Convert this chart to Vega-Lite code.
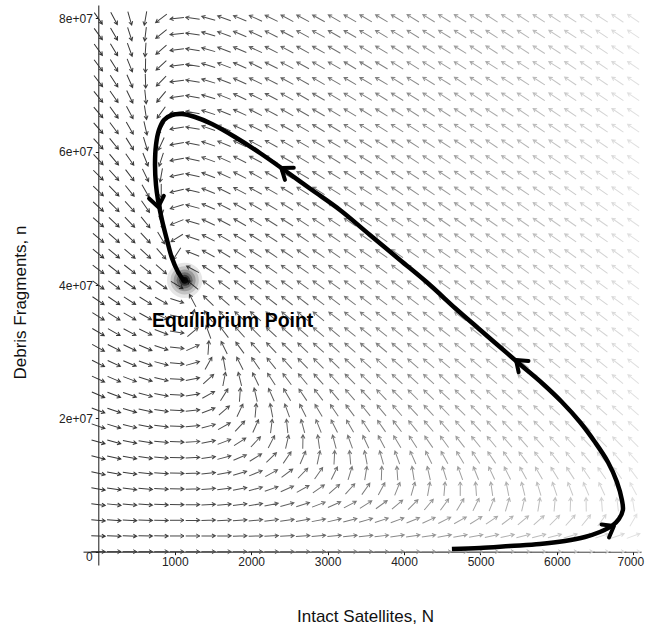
{
  "$schema": "https://vega.github.io/schema/vega-lite/v6.json",
  "width": 558,
  "height": 560,
  "autosize": "none",
  "padding": {"left": 83, "top": 5, "right": 5, "bottom": 66},
  "background": "white",
  "config": {"view": {"stroke": null}, "font": "Liberation Sans"},
  "datasets": {
    "field": [
{"N":0,"n":0,"a":0},{"N":205.9,"n":0,"a":0},{"N":411.8,"n":0,"a":0},{"N":617.6,"n":0,"a":0},{"N":823.5,"n":0,"a":0},{"N":1029.4,"n":0,"a":0},{"N":1235.3,"n":0,"a":0},{"N":1441.2,"n":0,"a":0},{"N":1647.1,"n":0,"a":0},{"N":1852.9,"n":0,"a":0},{"N":2058.8,"n":0,"a":0},{"N":2264.7,"n":0,"a":0},{"N":2470.6,"n":0,"a":0},{"N":2676.5,"n":0,"a":0},{"N":2882.4,"n":0,"a":0},{"N":3088.2,"n":0,"a":0},{"N":3294.1,"n":0,"a":0},{"N":3500,"n":0,"a":0},{"N":3705.9,"n":0,"a":0},{"N":3911.8,"n":0,"a":0},{"N":4117.6,"n":0,"a":0},{"N":4323.5,"n":0,"a":0},{"N":4529.4,"n":0,"a":0},{"N":4735.3,"n":0,"a":0},{"N":4941.2,"n":0,"a":0},{"N":5147.1,"n":0,"a":0},{"N":5352.9,"n":0,"a":0},{"N":5558.8,"n":0,"a":0},{"N":5764.7,"n":0,"a":0},{"N":5970.6,"n":0,"a":0},{"N":6176.5,"n":0,"a":0},{"N":6382.4,"n":0,"a":0},{"N":6588.2,"n":0,"a":0},{"N":6794.1,"n":0,"a":0},{"N":7000,"n":0,"a":0},
{"N":0,"n":2352941,"a":2},{"N":205.9,"n":2352941,"a":2},{"N":411.8,"n":2352941,"a":2},{"N":617.6,"n":2352941,"a":1},{"N":823.5,"n":2352941,"a":1},{"N":1029.4,"n":2352941,"a":0},{"N":1235.3,"n":2352941,"a":0},{"N":1441.2,"n":2352941,"a":-1},{"N":1647.1,"n":2352941,"a":-1},{"N":1852.9,"n":2352941,"a":-2},{"N":2058.8,"n":2352941,"a":-2},{"N":2264.7,"n":2352941,"a":-3},{"N":2470.6,"n":2352941,"a":-3},{"N":2676.5,"n":2352941,"a":-4},{"N":2882.4,"n":2352941,"a":-5},{"N":3088.2,"n":2352941,"a":-5},{"N":3294.1,"n":2352941,"a":-6},{"N":3500,"n":2352941,"a":-6},{"N":3705.9,"n":2352941,"a":-7},{"N":3911.8,"n":2352941,"a":-8},{"N":4117.6,"n":2352941,"a":-8},{"N":4323.5,"n":2352941,"a":-9},{"N":4529.4,"n":2352941,"a":-10},{"N":4735.3,"n":2352941,"a":-11},{"N":4941.2,"n":2352941,"a":-11},{"N":5147.1,"n":2352941,"a":-12},{"N":5352.9,"n":2352941,"a":-13},{"N":5558.8,"n":2352941,"a":-14},{"N":5764.7,"n":2352941,"a":-14},{"N":5970.6,"n":2352941,"a":-15},{"N":6176.5,"n":2352941,"a":-16},{"N":6382.4,"n":2352941,"a":-17},{"N":6588.2,"n":2352941,"a":-18},{"N":6794.1,"n":2352941,"a":-19},{"N":7000,"n":2352941,"a":-20},
{"N":0,"n":4705882,"a":5},{"N":205.9,"n":4705882,"a":4},{"N":411.8,"n":4705882,"a":3},{"N":617.6,"n":4705882,"a":2},{"N":823.5,"n":4705882,"a":1},{"N":1029.4,"n":4705882,"a":0},{"N":1235.3,"n":4705882,"a":-1},{"N":1441.2,"n":4705882,"a":-2},{"N":1647.1,"n":4705882,"a":-3},{"N":1852.9,"n":4705882,"a":-4},{"N":2058.8,"n":4705882,"a":-5},{"N":2264.7,"n":4705882,"a":-7},{"N":2470.6,"n":4705882,"a":-8},{"N":2676.5,"n":4705882,"a":-10},{"N":2882.4,"n":4705882,"a":-11},{"N":3088.2,"n":4705882,"a":-13},{"N":3294.1,"n":4705882,"a":-14},{"N":3500,"n":4705882,"a":-16},{"N":3705.9,"n":4705882,"a":-18},{"N":3911.8,"n":4705882,"a":-20},{"N":4117.6,"n":4705882,"a":-22},{"N":4323.5,"n":4705882,"a":-25},{"N":4529.4,"n":4705882,"a":-27},{"N":4735.3,"n":4705882,"a":-29},{"N":4941.2,"n":4705882,"a":-32},{"N":5147.1,"n":4705882,"a":-34},{"N":5352.9,"n":4705882,"a":-37},{"N":5558.8,"n":4705882,"a":-40},{"N":5764.7,"n":4705882,"a":-42},{"N":5970.6,"n":4705882,"a":-45},{"N":6176.5,"n":4705882,"a":-48},{"N":6382.4,"n":4705882,"a":-51},{"N":6588.2,"n":4705882,"a":-54},{"N":6794.1,"n":4705882,"a":-57},{"N":7000,"n":4705882,"a":-60},
{"N":0,"n":7058824,"a":7},{"N":205.9,"n":7058824,"a":6},{"N":411.8,"n":7058824,"a":5},{"N":617.6,"n":7058824,"a":4},{"N":823.5,"n":7058824,"a":2},{"N":1029.4,"n":7058824,"a":1},{"N":1235.3,"n":7058824,"a":-1},{"N":1441.2,"n":7058824,"a":-3},{"N":1647.1,"n":7058824,"a":-5},{"N":1852.9,"n":7058824,"a":-7},{"N":2058.8,"n":7058824,"a":-9},{"N":2264.7,"n":7058824,"a":-12},{"N":2470.6,"n":7058824,"a":-15},{"N":2676.5,"n":7058824,"a":-18},{"N":2882.4,"n":7058824,"a":-21},{"N":3088.2,"n":7058824,"a":-24},{"N":3294.1,"n":7058824,"a":-28},{"N":3500,"n":7058824,"a":-32},{"N":3705.9,"n":7058824,"a":-36},{"N":3911.8,"n":7058824,"a":-40},{"N":4117.6,"n":7058824,"a":-45},{"N":4323.5,"n":7058824,"a":-50},{"N":4529.4,"n":7058824,"a":-54},{"N":4735.3,"n":7058824,"a":-59},{"N":4941.2,"n":7058824,"a":-64},{"N":5147.1,"n":7058824,"a":-68},{"N":5352.9,"n":7058824,"a":-73},{"N":5558.8,"n":7058824,"a":-77},{"N":5764.7,"n":7058824,"a":-81},{"N":5970.6,"n":7058824,"a":-85},{"N":6176.5,"n":7058824,"a":-88},{"N":6382.4,"n":7058824,"a":-91},{"N":6588.2,"n":7058824,"a":-94},{"N":6794.1,"n":7058824,"a":-97},{"N":7000,"n":7058824,"a":-99},
{"N":0,"n":9411765,"a":10},{"N":205.9,"n":9411765,"a":8},{"N":411.8,"n":9411765,"a":7},{"N":617.6,"n":9411765,"a":5},{"N":823.5,"n":9411765,"a":3},{"N":1029.4,"n":9411765,"a":1},{"N":1235.3,"n":9411765,"a":-2},{"N":1441.2,"n":9411765,"a":-4},{"N":1647.1,"n":9411765,"a":-7},{"N":1852.9,"n":9411765,"a":-11},{"N":2058.8,"n":9411765,"a":-15},{"N":2264.7,"n":9411765,"a":-19},{"N":2470.6,"n":9411765,"a":-24},{"N":2676.5,"n":9411765,"a":-29},{"N":2882.4,"n":9411765,"a":-35},{"N":3088.2,"n":9411765,"a":-41},{"N":3294.1,"n":9411765,"a":-48},{"N":3500,"n":9411765,"a":-55},{"N":3705.9,"n":9411765,"a":-62},{"N":3911.8,"n":9411765,"a":-68},{"N":4117.6,"n":9411765,"a":-74},{"N":4323.5,"n":9411765,"a":-80},{"N":4529.4,"n":9411765,"a":-85},{"N":4735.3,"n":9411765,"a":-90},{"N":4941.2,"n":9411765,"a":-94},{"N":5147.1,"n":9411765,"a":-98},{"N":5352.9,"n":9411765,"a":-101},{"N":5558.8,"n":9411765,"a":-104},{"N":5764.7,"n":9411765,"a":-107},{"N":5970.6,"n":9411765,"a":-109},{"N":6176.5,"n":9411765,"a":-111},{"N":6382.4,"n":9411765,"a":-113},{"N":6588.2,"n":9411765,"a":-115},{"N":6794.1,"n":9411765,"a":-116},{"N":7000,"n":9411765,"a":-118},
{"N":0,"n":11764706,"a":12},{"N":205.9,"n":11764706,"a":10},{"N":411.8,"n":11764706,"a":8},{"N":617.6,"n":11764706,"a":6},{"N":823.5,"n":11764706,"a":4},{"N":1029.4,"n":11764706,"a":1},{"N":1235.3,"n":11764706,"a":-2},{"N":1441.2,"n":11764706,"a":-6},{"N":1647.1,"n":11764706,"a":-11},{"N":1852.9,"n":11764706,"a":-16},{"N":2058.8,"n":11764706,"a":-22},{"N":2264.7,"n":11764706,"a":-29},{"N":2470.6,"n":11764706,"a":-37},{"N":2676.5,"n":11764706,"a":-46},{"N":2882.4,"n":11764706,"a":-55},{"N":3088.2,"n":11764706,"a":-64},{"N":3294.1,"n":11764706,"a":-73},{"N":3500,"n":11764706,"a":-81},{"N":3705.9,"n":11764706,"a":-88},{"N":3911.8,"n":11764706,"a":-94},{"N":4117.6,"n":11764706,"a":-99},{"N":4323.5,"n":11764706,"a":-103},{"N":4529.4,"n":11764706,"a":-107},{"N":4735.3,"n":11764706,"a":-110},{"N":4941.2,"n":11764706,"a":-112},{"N":5147.1,"n":11764706,"a":-115},{"N":5352.9,"n":11764706,"a":-117},{"N":5558.8,"n":11764706,"a":-119},{"N":5764.7,"n":11764706,"a":-120},{"N":5970.6,"n":11764706,"a":-122},{"N":6176.5,"n":11764706,"a":-123},{"N":6382.4,"n":11764706,"a":-124},{"N":6588.2,"n":11764706,"a":-125},{"N":6794.1,"n":11764706,"a":-126},{"N":7000,"n":11764706,"a":-127},
{"N":0,"n":14117647,"a":14},{"N":205.9,"n":14117647,"a":12},{"N":411.8,"n":14117647,"a":10},{"N":617.6,"n":14117647,"a":8},{"N":823.5,"n":14117647,"a":5},{"N":1029.4,"n":14117647,"a":1},{"N":1235.3,"n":14117647,"a":-3},{"N":1441.2,"n":14117647,"a":-8},{"N":1647.1,"n":14117647,"a":-15},{"N":1852.9,"n":14117647,"a":-23},{"N":2058.8,"n":14117647,"a":-32},{"N":2264.7,"n":14117647,"a":-44},{"N":2470.6,"n":14117647,"a":-56},{"N":2676.5,"n":14117647,"a":-67},{"N":2882.4,"n":14117647,"a":-78},{"N":3088.2,"n":14117647,"a":-87},{"N":3294.1,"n":14117647,"a":-95},{"N":3500,"n":14117647,"a":-101},{"N":3705.9,"n":14117647,"a":-106},{"N":3911.8,"n":14117647,"a":-110},{"N":4117.6,"n":14117647,"a":-114},{"N":4323.5,"n":14117647,"a":-116},{"N":4529.4,"n":14117647,"a":-119},{"N":4735.3,"n":14117647,"a":-121},{"N":4941.2,"n":14117647,"a":-123},{"N":5147.1,"n":14117647,"a":-124},{"N":5352.9,"n":14117647,"a":-125},{"N":5558.8,"n":14117647,"a":-127},{"N":5764.7,"n":14117647,"a":-128},{"N":5970.6,"n":14117647,"a":-128},{"N":6176.5,"n":14117647,"a":-129},{"N":6382.4,"n":14117647,"a":-130},{"N":6588.2,"n":14117647,"a":-131},{"N":6794.1,"n":14117647,"a":-131},{"N":7000,"n":14117647,"a":-132},
{"N":0,"n":16470588,"a":16},{"N":205.9,"n":16470588,"a":15},{"N":411.8,"n":16470588,"a":12},{"N":617.6,"n":16470588,"a":10},{"N":823.5,"n":16470588,"a":6},{"N":1029.4,"n":16470588,"a":2},{"N":1235.3,"n":16470588,"a":-4},{"N":1441.2,"n":16470588,"a":-11},{"N":1647.1,"n":16470588,"a":-21},{"N":1852.9,"n":16470588,"a":-33},{"N":2058.8,"n":16470588,"a":-47},{"N":2264.7,"n":16470588,"a":-63},{"N":2470.6,"n":16470588,"a":-77},{"N":2676.5,"n":16470588,"a":-89},{"N":2882.4,"n":16470588,"a":-98},{"N":3088.2,"n":16470588,"a":-105},{"N":3294.1,"n":16470588,"a":-110},{"N":3500,"n":16470588,"a":-115},{"N":3705.9,"n":16470588,"a":-118},{"N":3911.8,"n":16470588,"a":-121},{"N":4117.6,"n":16470588,"a":-123},{"N":4323.5,"n":16470588,"a":-125},{"N":4529.4,"n":16470588,"a":-126},{"N":4735.3,"n":16470588,"a":-128},{"N":4941.2,"n":16470588,"a":-129},{"N":5147.1,"n":16470588,"a":-130},{"N":5352.9,"n":16470588,"a":-131},{"N":5558.8,"n":16470588,"a":-131},{"N":5764.7,"n":16470588,"a":-132},{"N":5970.6,"n":16470588,"a":-133},{"N":6176.5,"n":16470588,"a":-133},{"N":6382.4,"n":16470588,"a":-134},{"N":6588.2,"n":16470588,"a":-134},{"N":6794.1,"n":16470588,"a":-135},{"N":7000,"n":16470588,"a":-135},
{"N":0,"n":18823529,"a":19},{"N":205.9,"n":18823529,"a":17},{"N":411.8,"n":18823529,"a":14},{"N":617.6,"n":18823529,"a":11},{"N":823.5,"n":18823529,"a":7},{"N":1029.4,"n":18823529,"a":2},{"N":1235.3,"n":18823529,"a":-5},{"N":1441.2,"n":18823529,"a":-15},{"N":1647.1,"n":18823529,"a":-29},{"N":1852.9,"n":18823529,"a":-47},{"N":2058.8,"n":18823529,"a":-66},{"N":2264.7,"n":18823529,"a":-83},{"N":2470.6,"n":18823529,"a":-96},{"N":2676.5,"n":18823529,"a":-105},{"N":2882.4,"n":18823529,"a":-112},{"N":3088.2,"n":18823529,"a":-117},{"N":3294.1,"n":18823529,"a":-120},{"N":3500,"n":18823529,"a":-123},{"N":3705.9,"n":18823529,"a":-125},{"N":3911.8,"n":18823529,"a":-127},{"N":4117.6,"n":18823529,"a":-129},{"N":4323.5,"n":18823529,"a":-130},{"N":4529.4,"n":18823529,"a":-131},{"N":4735.3,"n":18823529,"a":-132},{"N":4941.2,"n":18823529,"a":-133},{"N":5147.1,"n":18823529,"a":-133},{"N":5352.9,"n":18823529,"a":-134},{"N":5558.8,"n":18823529,"a":-135},{"N":5764.7,"n":18823529,"a":-135},{"N":5970.6,"n":18823529,"a":-136},{"N":6176.5,"n":18823529,"a":-136},{"N":6382.4,"n":18823529,"a":-136},{"N":6588.2,"n":18823529,"a":-137},{"N":6794.1,"n":18823529,"a":-137},{"N":7000,"n":18823529,"a":-137},
{"N":0,"n":21176471,"a":21},{"N":205.9,"n":21176471,"a":19},{"N":411.8,"n":21176471,"a":16},{"N":617.6,"n":21176471,"a":13},{"N":823.5,"n":21176471,"a":9},{"N":1029.4,"n":21176471,"a":3},{"N":1235.3,"n":21176471,"a":-6},{"N":1441.2,"n":21176471,"a":-21},{"N":1647.1,"n":21176471,"a":-41},{"N":1852.9,"n":21176471,"a":-65},{"N":2058.8,"n":21176471,"a":-85},{"N":2264.7,"n":21176471,"a":-101},{"N":2470.6,"n":21176471,"a":-110},{"N":2676.5,"n":21176471,"a":-117},{"N":2882.4,"n":21176471,"a":-121},{"N":3088.2,"n":21176471,"a":-124},{"N":3294.1,"n":21176471,"a":-127},{"N":3500,"n":21176471,"a":-129},{"N":3705.9,"n":21176471,"a":-130},{"N":3911.8,"n":21176471,"a":-131},{"N":4117.6,"n":21176471,"a":-133},{"N":4323.5,"n":21176471,"a":-133},{"N":4529.4,"n":21176471,"a":-134},{"N":4735.3,"n":21176471,"a":-135},{"N":4941.2,"n":21176471,"a":-135},{"N":5147.1,"n":21176471,"a":-136},{"N":5352.9,"n":21176471,"a":-136},{"N":5558.8,"n":21176471,"a":-137},{"N":5764.7,"n":21176471,"a":-137},{"N":5970.6,"n":21176471,"a":-138},{"N":6176.5,"n":21176471,"a":-138},{"N":6382.4,"n":21176471,"a":-138},{"N":6588.2,"n":21176471,"a":-138},{"N":6794.1,"n":21176471,"a":-139},{"N":7000,"n":21176471,"a":-139},
{"N":0,"n":23529412,"a":23},{"N":205.9,"n":23529412,"a":21},{"N":411.8,"n":23529412,"a":19},{"N":617.6,"n":23529412,"a":15},{"N":823.5,"n":23529412,"a":11},{"N":1029.4,"n":23529412,"a":3},{"N":1235.3,"n":23529412,"a":-9},{"N":1441.2,"n":23529412,"a":-29},{"N":1647.1,"n":23529412,"a":-58},{"N":1852.9,"n":23529412,"a":-86},{"N":2058.8,"n":23529412,"a":-103},{"N":2264.7,"n":23529412,"a":-114},{"N":2470.6,"n":23529412,"a":-120},{"N":2676.5,"n":23529412,"a":-124},{"N":2882.4,"n":23529412,"a":-127},{"N":3088.2,"n":23529412,"a":-130},{"N":3294.1,"n":23529412,"a":-131},{"N":3500,"n":23529412,"a":-133},{"N":3705.9,"n":23529412,"a":-134},{"N":3911.8,"n":23529412,"a":-135},{"N":4117.6,"n":23529412,"a":-135},{"N":4323.5,"n":23529412,"a":-136},{"N":4529.4,"n":23529412,"a":-137},{"N":4735.3,"n":23529412,"a":-137},{"N":4941.2,"n":23529412,"a":-138},{"N":5147.1,"n":23529412,"a":-138},{"N":5352.9,"n":23529412,"a":-138},{"N":5558.8,"n":23529412,"a":-139},{"N":5764.7,"n":23529412,"a":-139},{"N":5970.6,"n":23529412,"a":-139},{"N":6176.5,"n":23529412,"a":-139},{"N":6382.4,"n":23529412,"a":-139},{"N":6588.2,"n":23529412,"a":-140},{"N":6794.1,"n":23529412,"a":-140},{"N":7000,"n":23529412,"a":-140},
{"N":0,"n":25882353,"a":25},{"N":205.9,"n":25882353,"a":23},{"N":411.8,"n":25882353,"a":21},{"N":617.6,"n":25882353,"a":18},{"N":823.5,"n":25882353,"a":13},{"N":1029.4,"n":25882353,"a":4},{"N":1235.3,"n":25882353,"a":-11},{"N":1441.2,"n":25882353,"a":-42},{"N":1647.1,"n":25882353,"a":-79},{"N":1852.9,"n":25882353,"a":-104},{"N":2058.8,"n":25882353,"a":-116},{"N":2264.7,"n":25882353,"a":-123},{"N":2470.6,"n":25882353,"a":-127},{"N":2676.5,"n":25882353,"a":-130},{"N":2882.4,"n":25882353,"a":-132},{"N":3088.2,"n":25882353,"a":-133},{"N":3294.1,"n":25882353,"a":-135},{"N":3500,"n":25882353,"a":-136},{"N":3705.9,"n":25882353,"a":-136},{"N":3911.8,"n":25882353,"a":-137},{"N":4117.6,"n":25882353,"a":-138},{"N":4323.5,"n":25882353,"a":-138},{"N":4529.4,"n":25882353,"a":-138},{"N":4735.3,"n":25882353,"a":-139},{"N":4941.2,"n":25882353,"a":-139},{"N":5147.1,"n":25882353,"a":-139},{"N":5352.9,"n":25882353,"a":-140},{"N":5558.8,"n":25882353,"a":-140},{"N":5764.7,"n":25882353,"a":-140},{"N":5970.6,"n":25882353,"a":-140},{"N":6176.5,"n":25882353,"a":-140},{"N":6382.4,"n":25882353,"a":-141},{"N":6588.2,"n":25882353,"a":-141},{"N":6794.1,"n":25882353,"a":-141},{"N":7000,"n":25882353,"a":-141},
{"N":0,"n":28235294,"a":27},{"N":205.9,"n":28235294,"a":25},{"N":411.8,"n":28235294,"a":23},{"N":617.6,"n":28235294,"a":20},{"N":823.5,"n":28235294,"a":15},{"N":1029.4,"n":28235294,"a":5},{"N":1235.3,"n":28235294,"a":-16},{"N":1441.2,"n":28235294,"a":-61},{"N":1647.1,"n":28235294,"a":-100},{"N":1852.9,"n":28235294,"a":-117},{"N":2058.8,"n":28235294,"a":-125},{"N":2264.7,"n":28235294,"a":-129},{"N":2470.6,"n":28235294,"a":-132},{"N":2676.5,"n":28235294,"a":-134},{"N":2882.4,"n":28235294,"a":-135},{"N":3088.2,"n":28235294,"a":-136},{"N":3294.1,"n":28235294,"a":-137},{"N":3500,"n":28235294,"a":-138},{"N":3705.9,"n":28235294,"a":-138},{"N":3911.8,"n":28235294,"a":-139},{"N":4117.6,"n":28235294,"a":-139},{"N":4323.5,"n":28235294,"a":-140},{"N":4529.4,"n":28235294,"a":-140},{"N":4735.3,"n":28235294,"a":-140},{"N":4941.2,"n":28235294,"a":-140},{"N":5147.1,"n":28235294,"a":-141},{"N":5352.9,"n":28235294,"a":-141},{"N":5558.8,"n":28235294,"a":-141},{"N":5764.7,"n":28235294,"a":-141},{"N":5970.6,"n":28235294,"a":-141},{"N":6176.5,"n":28235294,"a":-141},{"N":6382.4,"n":28235294,"a":-141},{"N":6588.2,"n":28235294,"a":-141},{"N":6794.1,"n":28235294,"a":-142},{"N":7000,"n":28235294,"a":-142},
{"N":0,"n":30588235,"a":29},{"N":205.9,"n":30588235,"a":27},{"N":411.8,"n":30588235,"a":26},{"N":617.6,"n":30588235,"a":23},{"N":823.5,"n":30588235,"a":18},{"N":1029.4,"n":30588235,"a":7},{"N":1235.3,"n":30588235,"a":-24},{"N":1441.2,"n":30588235,"a":-86},{"N":1647.1,"n":30588235,"a":-116},{"N":1852.9,"n":30588235,"a":-126},{"N":2058.8,"n":30588235,"a":-131},{"N":2264.7,"n":30588235,"a":-134},{"N":2470.6,"n":30588235,"a":-136},{"N":2676.5,"n":30588235,"a":-137},{"N":2882.4,"n":30588235,"a":-138},{"N":3088.2,"n":30588235,"a":-138},{"N":3294.1,"n":30588235,"a":-139},{"N":3500,"n":30588235,"a":-140},{"N":3705.9,"n":30588235,"a":-140},{"N":3911.8,"n":30588235,"a":-140},{"N":4117.6,"n":30588235,"a":-141},{"N":4323.5,"n":30588235,"a":-141},{"N":4529.4,"n":30588235,"a":-141},{"N":4735.3,"n":30588235,"a":-141},{"N":4941.2,"n":30588235,"a":-141},{"N":5147.1,"n":30588235,"a":-141},{"N":5352.9,"n":30588235,"a":-142},{"N":5558.8,"n":30588235,"a":-142},{"N":5764.7,"n":30588235,"a":-142},{"N":5970.6,"n":30588235,"a":-142},{"N":6176.5,"n":30588235,"a":-142},{"N":6382.4,"n":30588235,"a":-142},{"N":6588.2,"n":30588235,"a":-142},{"N":6794.1,"n":30588235,"a":-142},{"N":7000,"n":30588235,"a":-142},
{"N":0,"n":32941176,"a":31},{"N":205.9,"n":32941176,"a":30},{"N":411.8,"n":32941176,"a":28},{"N":617.6,"n":32941176,"a":26},{"N":823.5,"n":32941176,"a":21},{"N":1029.4,"n":32941176,"a":9},{"N":1235.3,"n":32941176,"a":-40},{"N":1441.2,"n":32941176,"a":-110},{"N":1647.1,"n":32941176,"a":-127},{"N":1852.9,"n":32941176,"a":-132},{"N":2058.8,"n":32941176,"a":-135},{"N":2264.7,"n":32941176,"a":-137},{"N":2470.6,"n":32941176,"a":-138},{"N":2676.5,"n":32941176,"a":-139},{"N":2882.4,"n":32941176,"a":-140},{"N":3088.2,"n":32941176,"a":-140},{"N":3294.1,"n":32941176,"a":-141},{"N":3500,"n":32941176,"a":-141},{"N":3705.9,"n":32941176,"a":-141},{"N":3911.8,"n":32941176,"a":-141},{"N":4117.6,"n":32941176,"a":-142},{"N":4323.5,"n":32941176,"a":-142},{"N":4529.4,"n":32941176,"a":-142},{"N":4735.3,"n":32941176,"a":-142},{"N":4941.2,"n":32941176,"a":-142},{"N":5147.1,"n":32941176,"a":-142},{"N":5352.9,"n":32941176,"a":-142},{"N":5558.8,"n":32941176,"a":-142},{"N":5764.7,"n":32941176,"a":-142},{"N":5970.6,"n":32941176,"a":-143},{"N":6176.5,"n":32941176,"a":-143},{"N":6382.4,"n":32941176,"a":-143},{"N":6588.2,"n":32941176,"a":-143},{"N":6794.1,"n":32941176,"a":-143},{"N":7000,"n":32941176,"a":-143},
{"N":0,"n":35294118,"a":32},{"N":205.9,"n":35294118,"a":32},{"N":411.8,"n":35294118,"a":30},{"N":617.6,"n":35294118,"a":29},{"N":823.5,"n":35294118,"a":25},{"N":1029.4,"n":35294118,"a":12},{"N":1235.3,"n":35294118,"a":-75},{"N":1441.2,"n":35294118,"a":-126},{"N":1647.1,"n":35294118,"a":-134},{"N":1852.9,"n":35294118,"a":-137},{"N":2058.8,"n":35294118,"a":-139},{"N":2264.7,"n":35294118,"a":-140},{"N":2470.6,"n":35294118,"a":-140},{"N":2676.5,"n":35294118,"a":-141},{"N":2882.4,"n":35294118,"a":-141},{"N":3088.2,"n":35294118,"a":-142},{"N":3294.1,"n":35294118,"a":-142},{"N":3500,"n":35294118,"a":-142},{"N":3705.9,"n":35294118,"a":-142},{"N":3911.8,"n":35294118,"a":-142},{"N":4117.6,"n":35294118,"a":-142},{"N":4323.5,"n":35294118,"a":-143},{"N":4529.4,"n":35294118,"a":-143},{"N":4735.3,"n":35294118,"a":-143},{"N":4941.2,"n":35294118,"a":-143},{"N":5147.1,"n":35294118,"a":-143},{"N":5352.9,"n":35294118,"a":-143},{"N":5558.8,"n":35294118,"a":-143},{"N":5764.7,"n":35294118,"a":-143},{"N":5970.6,"n":35294118,"a":-143},{"N":6176.5,"n":35294118,"a":-143},{"N":6382.4,"n":35294118,"a":-143},{"N":6588.2,"n":35294118,"a":-143},{"N":6794.1,"n":35294118,"a":-143},{"N":7000,"n":35294118,"a":-143},
{"N":0,"n":37647059,"a":34},{"N":205.9,"n":37647059,"a":34},{"N":411.8,"n":37647059,"a":33},{"N":617.6,"n":37647059,"a":32},{"N":823.5,"n":37647059,"a":29},{"N":1029.4,"n":37647059,"a":18},{"N":1235.3,"n":37647059,"a":-118},{"N":1441.2,"n":37647059,"a":-136},{"N":1647.1,"n":37647059,"a":-139},{"N":1852.9,"n":37647059,"a":-141},{"N":2058.8,"n":37647059,"a":-141},{"N":2264.7,"n":37647059,"a":-142},{"N":2470.6,"n":37647059,"a":-142},{"N":2676.5,"n":37647059,"a":-142},{"N":2882.4,"n":37647059,"a":-143},{"N":3088.2,"n":37647059,"a":-143},{"N":3294.1,"n":37647059,"a":-143},{"N":3500,"n":37647059,"a":-143},{"N":3705.9,"n":37647059,"a":-143},{"N":3911.8,"n":37647059,"a":-143},{"N":4117.6,"n":37647059,"a":-143},{"N":4323.5,"n":37647059,"a":-143},{"N":4529.4,"n":37647059,"a":-143},{"N":4735.3,"n":37647059,"a":-143},{"N":4941.2,"n":37647059,"a":-143},{"N":5147.1,"n":37647059,"a":-143},{"N":5352.9,"n":37647059,"a":-144},{"N":5558.8,"n":37647059,"a":-144},{"N":5764.7,"n":37647059,"a":-144},{"N":5970.6,"n":37647059,"a":-144},{"N":6176.5,"n":37647059,"a":-144},{"N":6382.4,"n":37647059,"a":-144},{"N":6588.2,"n":37647059,"a":-144},{"N":6794.1,"n":37647059,"a":-144},{"N":7000,"n":37647059,"a":-144},
{"N":0,"n":40000000,"a":36},{"N":205.9,"n":40000000,"a":36},{"N":411.8,"n":40000000,"a":35},{"N":617.6,"n":40000000,"a":35},{"N":823.5,"n":40000000,"a":35},{"N":1029.4,"n":40000000,"a":31},{"N":1235.3,"n":40000000,"a":-141},{"N":1441.2,"n":40000000,"a":-143},{"N":1647.1,"n":40000000,"a":-143},{"N":1852.9,"n":40000000,"a":-143},{"N":2058.8,"n":40000000,"a":-144},{"N":2264.7,"n":40000000,"a":-144},{"N":2470.6,"n":40000000,"a":-144},{"N":2676.5,"n":40000000,"a":-144},{"N":2882.4,"n":40000000,"a":-144},{"N":3088.2,"n":40000000,"a":-144},{"N":3294.1,"n":40000000,"a":-144},{"N":3500,"n":40000000,"a":-144},{"N":3705.9,"n":40000000,"a":-144},{"N":3911.8,"n":40000000,"a":-144},{"N":4117.6,"n":40000000,"a":-144},{"N":4323.5,"n":40000000,"a":-144},{"N":4529.4,"n":40000000,"a":-144},{"N":4735.3,"n":40000000,"a":-144},{"N":4941.2,"n":40000000,"a":-144},{"N":5147.1,"n":40000000,"a":-144},{"N":5352.9,"n":40000000,"a":-144},{"N":5558.8,"n":40000000,"a":-144},{"N":5764.7,"n":40000000,"a":-144},{"N":5970.6,"n":40000000,"a":-144},{"N":6176.5,"n":40000000,"a":-144},{"N":6382.4,"n":40000000,"a":-144},{"N":6588.2,"n":40000000,"a":-144},{"N":6794.1,"n":40000000,"a":-144},{"N":7000,"n":40000000,"a":-144},
{"N":0,"n":42352941,"a":37},{"N":205.9,"n":42352941,"a":38},{"N":411.8,"n":42352941,"a":38},{"N":617.6,"n":42352941,"a":39},{"N":823.5,"n":42352941,"a":41},{"N":1029.4,"n":42352941,"a":66},{"N":1235.3,"n":42352941,"a":-152},{"N":1441.2,"n":42352941,"a":-147},{"N":1647.1,"n":42352941,"a":-146},{"N":1852.9,"n":42352941,"a":-146},{"N":2058.8,"n":42352941,"a":-145},{"N":2264.7,"n":42352941,"a":-145},{"N":2470.6,"n":42352941,"a":-145},{"N":2676.5,"n":42352941,"a":-145},{"N":2882.4,"n":42352941,"a":-145},{"N":3088.2,"n":42352941,"a":-145},{"N":3294.1,"n":42352941,"a":-145},{"N":3500,"n":42352941,"a":-145},{"N":3705.9,"n":42352941,"a":-144},{"N":3911.8,"n":42352941,"a":-144},{"N":4117.6,"n":42352941,"a":-144},{"N":4323.5,"n":42352941,"a":-144},{"N":4529.4,"n":42352941,"a":-144},{"N":4735.3,"n":42352941,"a":-144},{"N":4941.2,"n":42352941,"a":-144},{"N":5147.1,"n":42352941,"a":-144},{"N":5352.9,"n":42352941,"a":-144},{"N":5558.8,"n":42352941,"a":-144},{"N":5764.7,"n":42352941,"a":-144},{"N":5970.6,"n":42352941,"a":-144},{"N":6176.5,"n":42352941,"a":-144},{"N":6382.4,"n":42352941,"a":-144},{"N":6588.2,"n":42352941,"a":-144},{"N":6794.1,"n":42352941,"a":-144},{"N":7000,"n":42352941,"a":-144},
{"N":0,"n":44705882,"a":39},{"N":205.9,"n":44705882,"a":39},{"N":411.8,"n":44705882,"a":41},{"N":617.6,"n":44705882,"a":43},{"N":823.5,"n":44705882,"a":49},{"N":1029.4,"n":44705882,"a":123},{"N":1235.3,"n":44705882,"a":-158},{"N":1441.2,"n":44705882,"a":-151},{"N":1647.1,"n":44705882,"a":-149},{"N":1852.9,"n":44705882,"a":-147},{"N":2058.8,"n":44705882,"a":-147},{"N":2264.7,"n":44705882,"a":-146},{"N":2470.6,"n":44705882,"a":-146},{"N":2676.5,"n":44705882,"a":-146},{"N":2882.4,"n":44705882,"a":-146},{"N":3088.2,"n":44705882,"a":-145},{"N":3294.1,"n":44705882,"a":-145},{"N":3500,"n":44705882,"a":-145},{"N":3705.9,"n":44705882,"a":-145},{"N":3911.8,"n":44705882,"a":-145},{"N":4117.6,"n":44705882,"a":-145},{"N":4323.5,"n":44705882,"a":-145},{"N":4529.4,"n":44705882,"a":-145},{"N":4735.3,"n":44705882,"a":-145},{"N":4941.2,"n":44705882,"a":-145},{"N":5147.1,"n":44705882,"a":-145},{"N":5352.9,"n":44705882,"a":-145},{"N":5558.8,"n":44705882,"a":-145},{"N":5764.7,"n":44705882,"a":-145},{"N":5970.6,"n":44705882,"a":-145},{"N":6176.5,"n":44705882,"a":-144},{"N":6382.4,"n":44705882,"a":-144},{"N":6588.2,"n":44705882,"a":-144},{"N":6794.1,"n":44705882,"a":-144},{"N":7000,"n":44705882,"a":-144},
{"N":0,"n":47058824,"a":40},{"N":205.9,"n":47058824,"a":41},{"N":411.8,"n":47058824,"a":43},{"N":617.6,"n":47058824,"a":47},{"N":823.5,"n":47058824,"a":59},{"N":1029.4,"n":47058824,"a":148},{"N":1235.3,"n":47058824,"a":-161},{"N":1441.2,"n":47058824,"a":-153},{"N":1647.1,"n":47058824,"a":-150},{"N":1852.9,"n":47058824,"a":-149},{"N":2058.8,"n":47058824,"a":-148},{"N":2264.7,"n":47058824,"a":-147},{"N":2470.6,"n":47058824,"a":-147},{"N":2676.5,"n":47058824,"a":-146},{"N":2882.4,"n":47058824,"a":-146},{"N":3088.2,"n":47058824,"a":-146},{"N":3294.1,"n":47058824,"a":-146},{"N":3500,"n":47058824,"a":-146},{"N":3705.9,"n":47058824,"a":-145},{"N":3911.8,"n":47058824,"a":-145},{"N":4117.6,"n":47058824,"a":-145},{"N":4323.5,"n":47058824,"a":-145},{"N":4529.4,"n":47058824,"a":-145},{"N":4735.3,"n":47058824,"a":-145},{"N":4941.2,"n":47058824,"a":-145},{"N":5147.1,"n":47058824,"a":-145},{"N":5352.9,"n":47058824,"a":-145},{"N":5558.8,"n":47058824,"a":-145},{"N":5764.7,"n":47058824,"a":-145},{"N":5970.6,"n":47058824,"a":-145},{"N":6176.5,"n":47058824,"a":-145},{"N":6382.4,"n":47058824,"a":-145},{"N":6588.2,"n":47058824,"a":-145},{"N":6794.1,"n":47058824,"a":-145},{"N":7000,"n":47058824,"a":-145},
{"N":0,"n":49411765,"a":42},{"N":205.9,"n":49411765,"a":43},{"N":411.8,"n":49411765,"a":46},{"N":617.6,"n":49411765,"a":51},{"N":823.5,"n":49411765,"a":69},{"N":1029.4,"n":49411765,"a":158},{"N":1235.3,"n":49411765,"a":-164},{"N":1441.2,"n":49411765,"a":-155},{"N":1647.1,"n":49411765,"a":-152},{"N":1852.9,"n":49411765,"a":-150},{"N":2058.8,"n":49411765,"a":-149},{"N":2264.7,"n":49411765,"a":-148},{"N":2470.6,"n":49411765,"a":-148},{"N":2676.5,"n":49411765,"a":-147},{"N":2882.4,"n":49411765,"a":-147},{"N":3088.2,"n":49411765,"a":-146},{"N":3294.1,"n":49411765,"a":-146},{"N":3500,"n":49411765,"a":-146},{"N":3705.9,"n":49411765,"a":-146},{"N":3911.8,"n":49411765,"a":-146},{"N":4117.6,"n":49411765,"a":-146},{"N":4323.5,"n":49411765,"a":-145},{"N":4529.4,"n":49411765,"a":-145},{"N":4735.3,"n":49411765,"a":-145},{"N":4941.2,"n":49411765,"a":-145},{"N":5147.1,"n":49411765,"a":-145},{"N":5352.9,"n":49411765,"a":-145},{"N":5558.8,"n":49411765,"a":-145},{"N":5764.7,"n":49411765,"a":-145},{"N":5970.6,"n":49411765,"a":-145},{"N":6176.5,"n":49411765,"a":-145},{"N":6382.4,"n":49411765,"a":-145},{"N":6588.2,"n":49411765,"a":-145},{"N":6794.1,"n":49411765,"a":-145},{"N":7000,"n":49411765,"a":-145},
{"N":0,"n":51764706,"a":43},{"N":205.9,"n":51764706,"a":45},{"N":411.8,"n":51764706,"a":48},{"N":617.6,"n":51764706,"a":55},{"N":823.5,"n":51764706,"a":80},{"N":1029.4,"n":51764706,"a":163},{"N":1235.3,"n":51764706,"a":-165},{"N":1441.2,"n":51764706,"a":-157},{"N":1647.1,"n":51764706,"a":-153},{"N":1852.9,"n":51764706,"a":-151},{"N":2058.8,"n":51764706,"a":-150},{"N":2264.7,"n":51764706,"a":-149},{"N":2470.6,"n":51764706,"a":-148},{"N":2676.5,"n":51764706,"a":-148},{"N":2882.4,"n":51764706,"a":-147},{"N":3088.2,"n":51764706,"a":-147},{"N":3294.1,"n":51764706,"a":-147},{"N":3500,"n":51764706,"a":-147},{"N":3705.9,"n":51764706,"a":-146},{"N":3911.8,"n":51764706,"a":-146},{"N":4117.6,"n":51764706,"a":-146},{"N":4323.5,"n":51764706,"a":-146},{"N":4529.4,"n":51764706,"a":-146},{"N":4735.3,"n":51764706,"a":-146},{"N":4941.2,"n":51764706,"a":-146},{"N":5147.1,"n":51764706,"a":-146},{"N":5352.9,"n":51764706,"a":-145},{"N":5558.8,"n":51764706,"a":-145},{"N":5764.7,"n":51764706,"a":-145},{"N":5970.6,"n":51764706,"a":-145},{"N":6176.5,"n":51764706,"a":-145},{"N":6382.4,"n":51764706,"a":-145},{"N":6588.2,"n":51764706,"a":-145},{"N":6794.1,"n":51764706,"a":-145},{"N":7000,"n":51764706,"a":-145},
{"N":0,"n":54117647,"a":44},{"N":205.9,"n":54117647,"a":46},{"N":411.8,"n":54117647,"a":51},{"N":617.6,"n":54117647,"a":60},{"N":823.5,"n":54117647,"a":90},{"N":1029.4,"n":54117647,"a":166},{"N":1235.3,"n":54117647,"a":-167},{"N":1441.2,"n":54117647,"a":-158},{"N":1647.1,"n":54117647,"a":-154},{"N":1852.9,"n":54117647,"a":-152},{"N":2058.8,"n":54117647,"a":-151},{"N":2264.7,"n":54117647,"a":-150},{"N":2470.6,"n":54117647,"a":-149},{"N":2676.5,"n":54117647,"a":-148},{"N":2882.4,"n":54117647,"a":-148},{"N":3088.2,"n":54117647,"a":-148},{"N":3294.1,"n":54117647,"a":-147},{"N":3500,"n":54117647,"a":-147},{"N":3705.9,"n":54117647,"a":-147},{"N":3911.8,"n":54117647,"a":-146},{"N":4117.6,"n":54117647,"a":-146},{"N":4323.5,"n":54117647,"a":-146},{"N":4529.4,"n":54117647,"a":-146},{"N":4735.3,"n":54117647,"a":-146},{"N":4941.2,"n":54117647,"a":-146},{"N":5147.1,"n":54117647,"a":-146},{"N":5352.9,"n":54117647,"a":-146},{"N":5558.8,"n":54117647,"a":-146},{"N":5764.7,"n":54117647,"a":-146},{"N":5970.6,"n":54117647,"a":-145},{"N":6176.5,"n":54117647,"a":-145},{"N":6382.4,"n":54117647,"a":-145},{"N":6588.2,"n":54117647,"a":-145},{"N":6794.1,"n":54117647,"a":-145},{"N":7000,"n":54117647,"a":-145},
{"N":0,"n":56470588,"a":45},{"N":205.9,"n":56470588,"a":48},{"N":411.8,"n":56470588,"a":53},{"N":617.6,"n":56470588,"a":64},{"N":823.5,"n":56470588,"a":100},{"N":1029.4,"n":56470588,"a":168},{"N":1235.3,"n":56470588,"a":-168},{"N":1441.2,"n":56470588,"a":-159},{"N":1647.1,"n":56470588,"a":-155},{"N":1852.9,"n":56470588,"a":-153},{"N":2058.8,"n":56470588,"a":-151},{"N":2264.7,"n":56470588,"a":-150},{"N":2470.6,"n":56470588,"a":-149},{"N":2676.5,"n":56470588,"a":-149},{"N":2882.4,"n":56470588,"a":-148},{"N":3088.2,"n":56470588,"a":-148},{"N":3294.1,"n":56470588,"a":-148},{"N":3500,"n":56470588,"a":-147},{"N":3705.9,"n":56470588,"a":-147},{"N":3911.8,"n":56470588,"a":-147},{"N":4117.6,"n":56470588,"a":-147},{"N":4323.5,"n":56470588,"a":-146},{"N":4529.4,"n":56470588,"a":-146},{"N":4735.3,"n":56470588,"a":-146},{"N":4941.2,"n":56470588,"a":-146},{"N":5147.1,"n":56470588,"a":-146},{"N":5352.9,"n":56470588,"a":-146},{"N":5558.8,"n":56470588,"a":-146},{"N":5764.7,"n":56470588,"a":-146},{"N":5970.6,"n":56470588,"a":-146},{"N":6176.5,"n":56470588,"a":-145},{"N":6382.4,"n":56470588,"a":-145},{"N":6588.2,"n":56470588,"a":-145},{"N":6794.1,"n":56470588,"a":-145},{"N":7000,"n":56470588,"a":-145},
{"N":0,"n":58823529,"a":47},{"N":205.9,"n":58823529,"a":50},{"N":411.8,"n":58823529,"a":55},{"N":617.6,"n":58823529,"a":68},{"N":823.5,"n":58823529,"a":108},{"N":1029.4,"n":58823529,"a":169},{"N":1235.3,"n":58823529,"a":-168},{"N":1441.2,"n":58823529,"a":-160},{"N":1647.1,"n":58823529,"a":-156},{"N":1852.9,"n":58823529,"a":-153},{"N":2058.8,"n":58823529,"a":-152},{"N":2264.7,"n":58823529,"a":-151},{"N":2470.6,"n":58823529,"a":-150},{"N":2676.5,"n":58823529,"a":-149},{"N":2882.4,"n":58823529,"a":-149},{"N":3088.2,"n":58823529,"a":-148},{"N":3294.1,"n":58823529,"a":-148},{"N":3500,"n":58823529,"a":-148},{"N":3705.9,"n":58823529,"a":-147},{"N":3911.8,"n":58823529,"a":-147},{"N":4117.6,"n":58823529,"a":-147},{"N":4323.5,"n":58823529,"a":-147},{"N":4529.4,"n":58823529,"a":-147},{"N":4735.3,"n":58823529,"a":-146},{"N":4941.2,"n":58823529,"a":-146},{"N":5147.1,"n":58823529,"a":-146},{"N":5352.9,"n":58823529,"a":-146},{"N":5558.8,"n":58823529,"a":-146},{"N":5764.7,"n":58823529,"a":-146},{"N":5970.6,"n":58823529,"a":-146},{"N":6176.5,"n":58823529,"a":-146},{"N":6382.4,"n":58823529,"a":-146},{"N":6588.2,"n":58823529,"a":-146},{"N":6794.1,"n":58823529,"a":-146},{"N":7000,"n":58823529,"a":-146},
{"N":0,"n":61176471,"a":48},{"N":205.9,"n":61176471,"a":51},{"N":411.8,"n":61176471,"a":58},{"N":617.6,"n":61176471,"a":73},{"N":823.5,"n":61176471,"a":115},{"N":1029.4,"n":61176471,"a":170},{"N":1235.3,"n":61176471,"a":-169},{"N":1441.2,"n":61176471,"a":-161},{"N":1647.1,"n":61176471,"a":-157},{"N":1852.9,"n":61176471,"a":-154},{"N":2058.8,"n":61176471,"a":-152},{"N":2264.7,"n":61176471,"a":-151},{"N":2470.6,"n":61176471,"a":-150},{"N":2676.5,"n":61176471,"a":-150},{"N":2882.4,"n":61176471,"a":-149},{"N":3088.2,"n":61176471,"a":-149},{"N":3294.1,"n":61176471,"a":-148},{"N":3500,"n":61176471,"a":-148},{"N":3705.9,"n":61176471,"a":-148},{"N":3911.8,"n":61176471,"a":-147},{"N":4117.6,"n":61176471,"a":-147},{"N":4323.5,"n":61176471,"a":-147},{"N":4529.4,"n":61176471,"a":-147},{"N":4735.3,"n":61176471,"a":-147},{"N":4941.2,"n":61176471,"a":-146},{"N":5147.1,"n":61176471,"a":-146},{"N":5352.9,"n":61176471,"a":-146},{"N":5558.8,"n":61176471,"a":-146},{"N":5764.7,"n":61176471,"a":-146},{"N":5970.6,"n":61176471,"a":-146},{"N":6176.5,"n":61176471,"a":-146},{"N":6382.4,"n":61176471,"a":-146},{"N":6588.2,"n":61176471,"a":-146},{"N":6794.1,"n":61176471,"a":-146},{"N":7000,"n":61176471,"a":-146},
{"N":0,"n":63529412,"a":49},{"N":205.9,"n":63529412,"a":53},{"N":411.8,"n":63529412,"a":60},{"N":617.6,"n":63529412,"a":77},{"N":823.5,"n":63529412,"a":121},{"N":1029.4,"n":63529412,"a":171},{"N":1235.3,"n":63529412,"a":-170},{"N":1441.2,"n":63529412,"a":-161},{"N":1647.1,"n":63529412,"a":-157},{"N":1852.9,"n":63529412,"a":-155},{"N":2058.8,"n":63529412,"a":-153},{"N":2264.7,"n":63529412,"a":-152},{"N":2470.6,"n":63529412,"a":-151},{"N":2676.5,"n":63529412,"a":-150},{"N":2882.4,"n":63529412,"a":-149},{"N":3088.2,"n":63529412,"a":-149},{"N":3294.1,"n":63529412,"a":-148},{"N":3500,"n":63529412,"a":-148},{"N":3705.9,"n":63529412,"a":-148},{"N":3911.8,"n":63529412,"a":-148},{"N":4117.6,"n":63529412,"a":-147},{"N":4323.5,"n":63529412,"a":-147},{"N":4529.4,"n":63529412,"a":-147},{"N":4735.3,"n":63529412,"a":-147},{"N":4941.2,"n":63529412,"a":-147},{"N":5147.1,"n":63529412,"a":-147},{"N":5352.9,"n":63529412,"a":-146},{"N":5558.8,"n":63529412,"a":-146},{"N":5764.7,"n":63529412,"a":-146},{"N":5970.6,"n":63529412,"a":-146},{"N":6176.5,"n":63529412,"a":-146},{"N":6382.4,"n":63529412,"a":-146},{"N":6588.2,"n":63529412,"a":-146},{"N":6794.1,"n":63529412,"a":-146},{"N":7000,"n":63529412,"a":-146},
{"N":0,"n":65882353,"a":50},{"N":205.9,"n":65882353,"a":54},{"N":411.8,"n":65882353,"a":62},{"N":617.6,"n":65882353,"a":81},{"N":823.5,"n":65882353,"a":126},{"N":1029.4,"n":65882353,"a":172},{"N":1235.3,"n":65882353,"a":-170},{"N":1441.2,"n":65882353,"a":-162},{"N":1647.1,"n":65882353,"a":-158},{"N":1852.9,"n":65882353,"a":-155},{"N":2058.8,"n":65882353,"a":-153},{"N":2264.7,"n":65882353,"a":-152},{"N":2470.6,"n":65882353,"a":-151},{"N":2676.5,"n":65882353,"a":-150},{"N":2882.4,"n":65882353,"a":-150},{"N":3088.2,"n":65882353,"a":-149},{"N":3294.1,"n":65882353,"a":-149},{"N":3500,"n":65882353,"a":-148},{"N":3705.9,"n":65882353,"a":-148},{"N":3911.8,"n":65882353,"a":-148},{"N":4117.6,"n":65882353,"a":-147},{"N":4323.5,"n":65882353,"a":-147},{"N":4529.4,"n":65882353,"a":-147},{"N":4735.3,"n":65882353,"a":-147},{"N":4941.2,"n":65882353,"a":-147},{"N":5147.1,"n":65882353,"a":-147},{"N":5352.9,"n":65882353,"a":-147},{"N":5558.8,"n":65882353,"a":-146},{"N":5764.7,"n":65882353,"a":-146},{"N":5970.6,"n":65882353,"a":-146},{"N":6176.5,"n":65882353,"a":-146},{"N":6382.4,"n":65882353,"a":-146},{"N":6588.2,"n":65882353,"a":-146},{"N":6794.1,"n":65882353,"a":-146},{"N":7000,"n":65882353,"a":-146},
{"N":0,"n":68235294,"a":51},{"N":205.9,"n":68235294,"a":55},{"N":411.8,"n":68235294,"a":64},{"N":617.6,"n":68235294,"a":84},{"N":823.5,"n":68235294,"a":130},{"N":1029.4,"n":68235294,"a":172},{"N":1235.3,"n":68235294,"a":-170},{"N":1441.2,"n":68235294,"a":-163},{"N":1647.1,"n":68235294,"a":-158},{"N":1852.9,"n":68235294,"a":-155},{"N":2058.8,"n":68235294,"a":-154},{"N":2264.7,"n":68235294,"a":-152},{"N":2470.6,"n":68235294,"a":-151},{"N":2676.5,"n":68235294,"a":-150},{"N":2882.4,"n":68235294,"a":-150},{"N":3088.2,"n":68235294,"a":-149},{"N":3294.1,"n":68235294,"a":-149},{"N":3500,"n":68235294,"a":-149},{"N":3705.9,"n":68235294,"a":-148},{"N":3911.8,"n":68235294,"a":-148},{"N":4117.6,"n":68235294,"a":-148},{"N":4323.5,"n":68235294,"a":-147},{"N":4529.4,"n":68235294,"a":-147},{"N":4735.3,"n":68235294,"a":-147},{"N":4941.2,"n":68235294,"a":-147},{"N":5147.1,"n":68235294,"a":-147},{"N":5352.9,"n":68235294,"a":-147},{"N":5558.8,"n":68235294,"a":-147},{"N":5764.7,"n":68235294,"a":-146},{"N":5970.6,"n":68235294,"a":-146},{"N":6176.5,"n":68235294,"a":-146},{"N":6382.4,"n":68235294,"a":-146},{"N":6588.2,"n":68235294,"a":-146},{"N":6794.1,"n":68235294,"a":-146},{"N":7000,"n":68235294,"a":-146},
{"N":0,"n":70588235,"a":52},{"N":205.9,"n":70588235,"a":57},{"N":411.8,"n":70588235,"a":66},{"N":617.6,"n":70588235,"a":88},{"N":823.5,"n":70588235,"a":134},{"N":1029.4,"n":70588235,"a":173},{"N":1235.3,"n":70588235,"a":-171},{"N":1441.2,"n":70588235,"a":-163},{"N":1647.1,"n":70588235,"a":-159},{"N":1852.9,"n":70588235,"a":-156},{"N":2058.8,"n":70588235,"a":-154},{"N":2264.7,"n":70588235,"a":-153},{"N":2470.6,"n":70588235,"a":-152},{"N":2676.5,"n":70588235,"a":-151},{"N":2882.4,"n":70588235,"a":-150},{"N":3088.2,"n":70588235,"a":-150},{"N":3294.1,"n":70588235,"a":-149},{"N":3500,"n":70588235,"a":-149},{"N":3705.9,"n":70588235,"a":-149},{"N":3911.8,"n":70588235,"a":-148},{"N":4117.6,"n":70588235,"a":-148},{"N":4323.5,"n":70588235,"a":-148},{"N":4529.4,"n":70588235,"a":-148},{"N":4735.3,"n":70588235,"a":-147},{"N":4941.2,"n":70588235,"a":-147},{"N":5147.1,"n":70588235,"a":-147},{"N":5352.9,"n":70588235,"a":-147},{"N":5558.8,"n":70588235,"a":-147},{"N":5764.7,"n":70588235,"a":-147},{"N":5970.6,"n":70588235,"a":-146},{"N":6176.5,"n":70588235,"a":-146},{"N":6382.4,"n":70588235,"a":-146},{"N":6588.2,"n":70588235,"a":-146},{"N":6794.1,"n":70588235,"a":-146},{"N":7000,"n":70588235,"a":-146},
{"N":0,"n":72941176,"a":53},{"N":205.9,"n":72941176,"a":58},{"N":411.8,"n":72941176,"a":68},{"N":617.6,"n":72941176,"a":91},{"N":823.5,"n":72941176,"a":137},{"N":1029.4,"n":72941176,"a":173},{"N":1235.3,"n":72941176,"a":-171},{"N":1441.2,"n":72941176,"a":-163},{"N":1647.1,"n":72941176,"a":-159},{"N":1852.9,"n":72941176,"a":-156},{"N":2058.8,"n":72941176,"a":-154},{"N":2264.7,"n":72941176,"a":-153},{"N":2470.6,"n":72941176,"a":-152},{"N":2676.5,"n":72941176,"a":-151},{"N":2882.4,"n":72941176,"a":-150},{"N":3088.2,"n":72941176,"a":-150},{"N":3294.1,"n":72941176,"a":-149},{"N":3500,"n":72941176,"a":-149},{"N":3705.9,"n":72941176,"a":-149},{"N":3911.8,"n":72941176,"a":-148},{"N":4117.6,"n":72941176,"a":-148},{"N":4323.5,"n":72941176,"a":-148},{"N":4529.4,"n":72941176,"a":-148},{"N":4735.3,"n":72941176,"a":-148},{"N":4941.2,"n":72941176,"a":-147},{"N":5147.1,"n":72941176,"a":-147},{"N":5352.9,"n":72941176,"a":-147},{"N":5558.8,"n":72941176,"a":-147},{"N":5764.7,"n":72941176,"a":-147},{"N":5970.6,"n":72941176,"a":-147},{"N":6176.5,"n":72941176,"a":-146},{"N":6382.4,"n":72941176,"a":-146},{"N":6588.2,"n":72941176,"a":-146},{"N":6794.1,"n":72941176,"a":-146},{"N":7000,"n":72941176,"a":-146},
{"N":0,"n":75294118,"a":54},{"N":205.9,"n":75294118,"a":59},{"N":411.8,"n":75294118,"a":70},{"N":617.6,"n":75294118,"a":94},{"N":823.5,"n":75294118,"a":139},{"N":1029.4,"n":75294118,"a":173},{"N":1235.3,"n":75294118,"a":-171},{"N":1441.2,"n":75294118,"a":-164},{"N":1647.1,"n":75294118,"a":-159},{"N":1852.9,"n":75294118,"a":-157},{"N":2058.8,"n":75294118,"a":-155},{"N":2264.7,"n":75294118,"a":-153},{"N":2470.6,"n":75294118,"a":-152},{"N":2676.5,"n":75294118,"a":-151},{"N":2882.4,"n":75294118,"a":-151},{"N":3088.2,"n":75294118,"a":-150},{"N":3294.1,"n":75294118,"a":-149},{"N":3500,"n":75294118,"a":-149},{"N":3705.9,"n":75294118,"a":-149},{"N":3911.8,"n":75294118,"a":-148},{"N":4117.6,"n":75294118,"a":-148},{"N":4323.5,"n":75294118,"a":-148},{"N":4529.4,"n":75294118,"a":-148},{"N":4735.3,"n":75294118,"a":-148},{"N":4941.2,"n":75294118,"a":-147},{"N":5147.1,"n":75294118,"a":-147},{"N":5352.9,"n":75294118,"a":-147},{"N":5558.8,"n":75294118,"a":-147},{"N":5764.7,"n":75294118,"a":-147},{"N":5970.6,"n":75294118,"a":-147},{"N":6176.5,"n":75294118,"a":-147},{"N":6382.4,"n":75294118,"a":-146},{"N":6588.2,"n":75294118,"a":-146},{"N":6794.1,"n":75294118,"a":-146},{"N":7000,"n":75294118,"a":-146},
{"N":0,"n":77647059,"a":54},{"N":205.9,"n":77647059,"a":60},{"N":411.8,"n":77647059,"a":72},{"N":617.6,"n":77647059,"a":97},{"N":823.5,"n":77647059,"a":141},{"N":1029.4,"n":77647059,"a":174},{"N":1235.3,"n":77647059,"a":-172},{"N":1441.2,"n":77647059,"a":-164},{"N":1647.1,"n":77647059,"a":-160},{"N":1852.9,"n":77647059,"a":-157},{"N":2058.8,"n":77647059,"a":-155},{"N":2264.7,"n":77647059,"a":-153},{"N":2470.6,"n":77647059,"a":-152},{"N":2676.5,"n":77647059,"a":-151},{"N":2882.4,"n":77647059,"a":-151},{"N":3088.2,"n":77647059,"a":-150},{"N":3294.1,"n":77647059,"a":-150},{"N":3500,"n":77647059,"a":-149},{"N":3705.9,"n":77647059,"a":-149},{"N":3911.8,"n":77647059,"a":-149},{"N":4117.6,"n":77647059,"a":-148},{"N":4323.5,"n":77647059,"a":-148},{"N":4529.4,"n":77647059,"a":-148},{"N":4735.3,"n":77647059,"a":-148},{"N":4941.2,"n":77647059,"a":-148},{"N":5147.1,"n":77647059,"a":-147},{"N":5352.9,"n":77647059,"a":-147},{"N":5558.8,"n":77647059,"a":-147},{"N":5764.7,"n":77647059,"a":-147},{"N":5970.6,"n":77647059,"a":-147},{"N":6176.5,"n":77647059,"a":-147},{"N":6382.4,"n":77647059,"a":-147},{"N":6588.2,"n":77647059,"a":-146},{"N":6794.1,"n":77647059,"a":-146},{"N":7000,"n":77647059,"a":-146},
{"N":0,"n":80000000,"a":55},{"N":205.9,"n":80000000,"a":62},{"N":411.8,"n":80000000,"a":74},{"N":617.6,"n":80000000,"a":100},{"N":823.5,"n":80000000,"a":143},{"N":1029.4,"n":80000000,"a":174},{"N":1235.3,"n":80000000,"a":-172},{"N":1441.2,"n":80000000,"a":-164},{"N":1647.1,"n":80000000,"a":-160},{"N":1852.9,"n":80000000,"a":-157},{"N":2058.8,"n":80000000,"a":-155},{"N":2264.7,"n":80000000,"a":-154},{"N":2470.6,"n":80000000,"a":-152},{"N":2676.5,"n":80000000,"a":-152},{"N":2882.4,"n":80000000,"a":-151},{"N":3088.2,"n":80000000,"a":-150},{"N":3294.1,"n":80000000,"a":-150},{"N":3500,"n":80000000,"a":-149},{"N":3705.9,"n":80000000,"a":-149},{"N":3911.8,"n":80000000,"a":-149},{"N":4117.6,"n":80000000,"a":-148},{"N":4323.5,"n":80000000,"a":-148},{"N":4529.4,"n":80000000,"a":-148},{"N":4735.3,"n":80000000,"a":-148},{"N":4941.2,"n":80000000,"a":-148},{"N":5147.1,"n":80000000,"a":-147},{"N":5352.9,"n":80000000,"a":-147},{"N":5558.8,"n":80000000,"a":-147},{"N":5764.7,"n":80000000,"a":-147},{"N":5970.6,"n":80000000,"a":-147},{"N":6176.5,"n":80000000,"a":-147},{"N":6382.4,"n":80000000,"a":-147},{"N":6588.2,"n":80000000,"a":-147},{"N":6794.1,"n":80000000,"a":-146},{"N":7000,"n":80000000,"a":-146}
    ],
    "traj": [
      {"k":1,"N":4626,"n":400000},{"k":2,"N":4992,"n":550000},{"k":3,"N":5385,"n":850000},{"k":4,"N":5777,"n":1150000},
      {"k":5,"N":6104,"n":1600000},{"k":6,"N":6366,"n":2200000},{"k":7,"N":6562,"n":2950000},{"k":8,"N":6719,"n":3850000},
      {"k":9,"N":6811,"n":4900000},{"k":10,"N":6863,"n":6250000},{"k":11,"N":6850,"n":7750000},{"k":12,"N":6785,"n":10450000},
      {"k":13,"N":6667,"n":13450000},{"k":14,"N":6497,"n":16450000},{"k":15,"N":6301,"n":19450000},{"k":16,"N":6065,"n":22450000},
      {"k":17,"N":5804,"n":25300000},{"k":18,"N":5543,"n":27850000},{"k":19,"N":5255,"n":30700000},{"k":20,"N":4967,"n":33550000},
      {"k":21,"N":4666,"n":36550000},{"k":22,"N":4339,"n":40000000},{"k":23,"N":3947,"n":43750000},{"k":24,"N":3554,"n":47500000},
      {"k":25,"N":3162,"n":51250000},{"k":26,"N":2796,"n":54250000},{"k":27,"N":2469,"n":56950000},{"k":28,"N":2115,"n":59800000},
      {"k":29,"N":1788,"n":62200000},{"k":30,"N":1487,"n":64150000},{"k":31,"N":1265,"n":65200000},{"k":32,"N":1095,"n":65650000},
      {"k":33,"N":964,"n":65500000},{"k":34,"N":860,"n":64750000},{"k":35,"N":794,"n":63250000},{"k":36,"N":755,"n":61000000},
      {"k":37,"N":742,"n":58000000},{"k":38,"N":755,"n":55000000},{"k":39,"N":781,"n":52750000},{"k":40,"N":833,"n":49750000},
      {"k":41,"N":899,"n":46750000},{"k":42,"N":964,"n":44050000},{"k":43,"N":1043,"n":41950000},{"k":44,"N":1121,"n":40600000}
    ],
    "heads": [
      {"N":784,"n":51700000,"a":80},
      {"N":2394,"n":57550000,"a":-144},
      {"N":5465,"n":28750000,"a":-139},
      {"N":6746,"n":3850000,"a":-30}
    ],
    "eq": [
      {"N":1130,"n":40700000,"label":"Equilibrium Point"}
    ]
  },
  "layer": [
    {
      "data": {"name": "field"},
      "mark": {"type": "point", "shape": "M-1,0L1,0M0.5,-0.28L1,0L0.5,0.28", "filled": false, "size": 196, "strokeWidth": 1, "opacity": 1},
      "encoding": {
        "x": {
          "field": "N", "type": "quantitative",
          "scale": {"domain": [-200, 7100], "nice": false, "zero": false},
          "axis": {
            "title": "Intact Satellites, N", "values": [1000, 2000, 3000, 4000, 5000, 6000, 7000], "format": "d",
            "offset": -13.33, "grid": false, "domainColor": "#1a1a1a", "tickColor": "#1a1a1a", "tickSize": 3,
            "labelFont": "Liberation Sans", "labelFontSize": 12, "labelColor": "#222222", "labelPadding": 2,
            "labelOffset": {"condition": {"test": "datum.value === 7000", "value": -3}, "value": 0},
            "labelFlush": false, "labelOverlap": false,
            "titleFont": "Liberation Sans", "titleFontSize": 17, "titleFontWeight": "normal", "titleColor": "#111111",
            "titleBaseline": "alphabetic", "titleAlign": "center", "titleX": 282, "titleY": 70
          }
        },
        "y": {
          "field": "n", "type": "quantitative",
          "scale": {"domain": [-2000000, 82000000], "nice": false, "zero": false},
          "axis": {
            "title": "Debris Fragments, n", "values": [0, 20000000, 40000000, 60000000, 80000000],
            "labelExpr": "datum.value === 0 ? '0' : format(datum.value / 10000000, 'd') + 'e+07'",
            "labelBaseline": {"condition": {"test": "datum.value === 0", "value": "top"}, "value": "middle"},
            "offset": -15.3, "grid": false, "domainColor": "#1a1a1a", "tickColor": "#1a1a1a", "tickSize": 3,
            "labelFont": "Liberation Sans", "labelFontSize": 12, "labelColor": "#222222", "labelPadding": 3,
            "labelFlush": false, "labelOverlap": false,
            "titleFont": "Liberation Sans", "titleFontSize": 17, "titleFontWeight": "normal", "titleColor": "#111111",
            "titleAngle": -90, "titleBaseline": "alphabetic", "titleAlign": "center", "titleX": -73, "titleY": 297
          }
        },
        "angle": {"field": "a", "type": "quantitative", "scale": null},
        "color": {
          "field": "N", "type": "quantitative",
          "scale": {"domain": [0, 2000, 4000, 7000], "range": ["#333333", "#555555", "#8a8a8a", "#e0e0e0"]},
          "legend": null
        }
      }
    },
    {"data": {"name": "eq"}, "mark": {"type": "circle", "size": 1250, "color": "black", "opacity": 0.1}, "encoding": {"x": {"field": "N", "type": "quantitative"}, "y": {"field": "n", "type": "quantitative"}}},
    {"data": {"name": "eq"}, "mark": {"type": "circle", "size": 800, "color": "black", "opacity": 0.15}, "encoding": {"x": {"field": "N", "type": "quantitative"}, "y": {"field": "n", "type": "quantitative"}}},
    {"data": {"name": "eq"}, "mark": {"type": "circle", "size": 480, "color": "black", "opacity": 0.22}, "encoding": {"x": {"field": "N", "type": "quantitative"}, "y": {"field": "n", "type": "quantitative"}}},
    {"data": {"name": "eq"}, "mark": {"type": "circle", "size": 260, "color": "black", "opacity": 0.3}, "encoding": {"x": {"field": "N", "type": "quantitative"}, "y": {"field": "n", "type": "quantitative"}}},
    {"data": {"name": "eq"}, "mark": {"type": "circle", "size": 120, "color": "black", "opacity": 0.5}, "encoding": {"x": {"field": "N", "type": "quantitative"}, "y": {"field": "n", "type": "quantitative"}}},
    {"data": {"name": "eq"}, "mark": {"type": "circle", "size": 45, "color": "black", "opacity": 0.9}, "encoding": {"x": {"field": "N", "type": "quantitative"}, "y": {"field": "n", "type": "quantitative"}}},
    {
      "data": {"name": "traj"},
      "mark": {"type": "line", "color": "black", "strokeWidth": 4.5, "strokeCap": "butt", "strokeJoin": "round", "interpolate": "catmull-rom"},
      "encoding": {
        "x": {"field": "N", "type": "quantitative"},
        "y": {"field": "n", "type": "quantitative"},
        "order": {"field": "k", "type": "quantitative"}
      }
    },
    {
      "data": {"name": "heads"},
      "mark": {"type": "point", "shape": "M-1,-0.75L0,0L-1,0.75", "filled": false, "size": 400, "strokeWidth": 4, "strokeCap": "round", "strokeJoin": "round", "color": "black", "opacity": 1},
      "encoding": {
        "x": {"field": "N", "type": "quantitative"},
        "y": {"field": "n", "type": "quantitative"},
        "angle": {"field": "a", "type": "quantitative", "scale": null}
      }
    },
    {
      "data": {"name": "eq"},
      "mark": {"type": "text", "font": "Liberation Sans", "fontWeight": "bold", "fontSize": 19.5, "dx": 48, "dy": 47, "align": "center", "baseline": "alphabetic", "color": "black"},
      "encoding": {
        "x": {"field": "N", "type": "quantitative"},
        "y": {"field": "n", "type": "quantitative"},
        "text": {"field": "label"}
      }
    }
  ]
}
